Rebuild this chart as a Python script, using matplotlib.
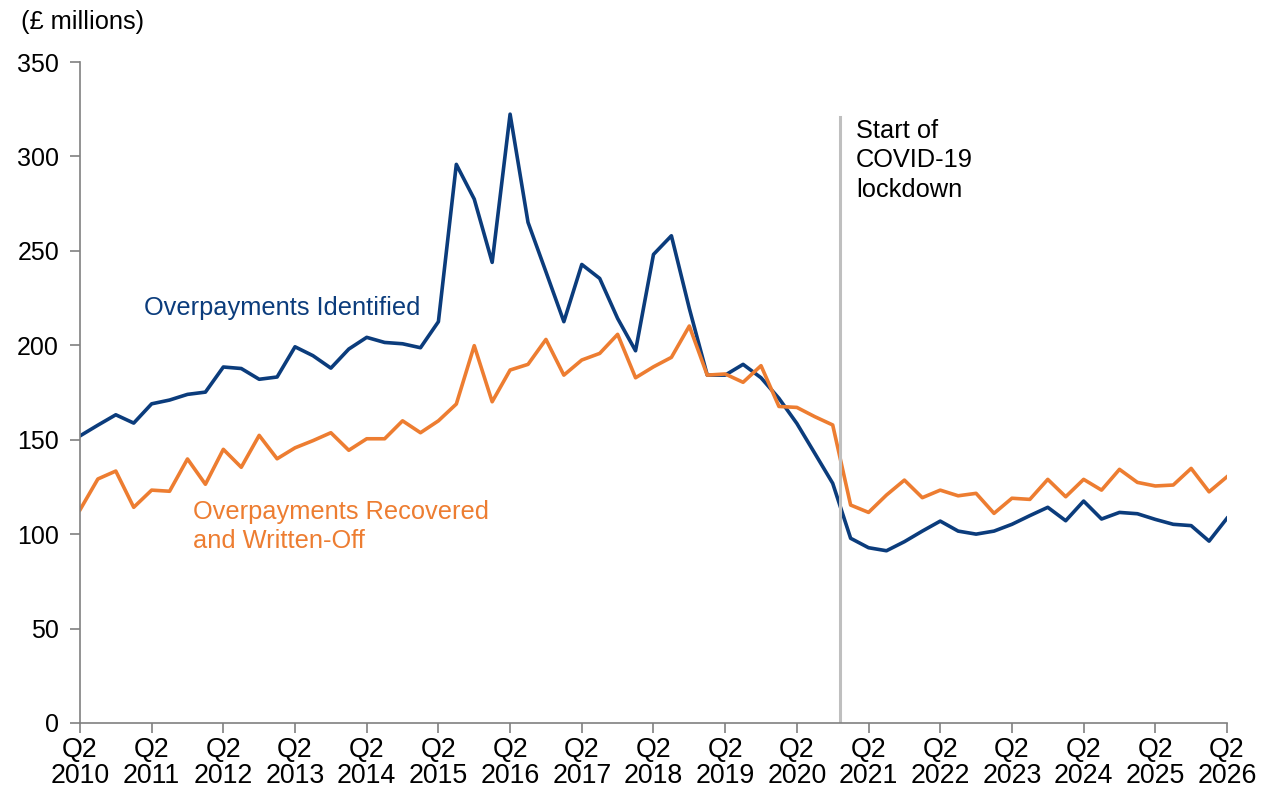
import matplotlib.pyplot as plt

plt.rcParams['font.family'] = ['Liberation Sans', 'DejaVu Sans']

# quarters from Q2 2010 to Q2 2026 (65 points)
years = list(range(2010, 2027))
tick_labels = ['Q2\n' + str(y) for y in years]

identified = [152, 157.7, 163.2, 158.8, 169.0, 171, 174, 175.2, 188.5, 187.7,
              182, 183.2, 199.2, 194.5, 187.9, 198, 204.2, 201.5, 200.8, 198.7,
              212.5, 295.8, 277.4, 243.9, 322.4, 265.1, 238.9, 212.5, 242.8, 235.4,
              214.2, 197.1, 248.1, 258, 219.5, 184.2, 184.2, 189.9, 182.8, 171.9,
              158.6, 142.8, 126.9, 97.8, 92.8, 91.2, 96, 101.6, 106.9, 101.6,
              100, 101.6, 105.2, 109.8, 114.2, 107.1, 117.5, 108, 111.5, 110.8,
              107.8, 105.2, 104.5, 96.3, 108.4]

recovered = [112.8, 129.2, 133.4, 114.2, 123.3, 122.7, 139.8, 126.4, 144.9, 135.4,
             152.3, 139.9, 145.7, 149.5, 153.7, 144.4, 150.5, 150.5, 160, 153.7,
             160, 168.9, 199.8, 170.1, 186.9, 189.9, 203.1, 184.2, 192.2, 195.7,
             205.8, 182.8, 188.6, 193.6, 210.2, 184.2, 184.8, 180.4, 189.2, 167.6,
             167.1, 162.2, 157.8, 115.4, 111.5, 120.7, 128.6, 119.3, 123.3, 120.3,
             121.6, 111, 119, 118.4, 129, 119.8, 129, 123.3, 134.3, 127.4,
             125.5, 126, 134.8, 122.4, 130.4]

x = list(range(len(identified)))
blue = '#0B3C7C'
orange = '#ED7D31'
fs = 18.3

fig = plt.figure(figsize=(12.63, 7.91), dpi=100)
ax = fig.add_axes([0.0633, 0.086, 0.9082, 0.8356])

ax.plot(x, identified, color=blue, linewidth=2.6)
ax.plot(x, recovered, color=orange, linewidth=2.6)

# covid lockdown marker
ax.plot([42.4, 42.4], [0, 321], color='#BFBFBF', linewidth=2.2)
ax.text(43.3, 320, 'Start of\nCOVID-19\nlockdown', fontsize=fs, va='top', ha='left',
        linespacing=1.3)

ax.text(3.6, 220, 'Overpayments Identified', color=blue, fontsize=fs, va='center')
ax.text(6.3, 104, 'Overpayments Recovered\nand Written-Off', color=orange, fontsize=fs,
        va='center', linespacing=1.3)

ax.set_xlim(0, 64)
ax.set_ylim(0, 350)
ax.set_yticks(range(0, 351, 50))
ax.set_xticks(range(0, 65, 4))
ax.set_xticklabels(tick_labels, linespacing=1.02)
ax.tick_params(labelsize=18, color='#808080', length=7, width=1.2)
ax.tick_params(axis='x', labelsize=19.3, pad=3)
ax.tick_params(axis='y', pad=8)

for s in ['top', 'right']:
    ax.spines[s].set_visible(False)
for s in ['left', 'bottom']:
    ax.spines[s].set_color('#808080')
    ax.spines[s].set_linewidth(1.2)

fig.text(0.017, 0.972, '(£ millions)', fontsize=fs, va='center', ha='left')

plt.savefig('out.png', dpi=100)
